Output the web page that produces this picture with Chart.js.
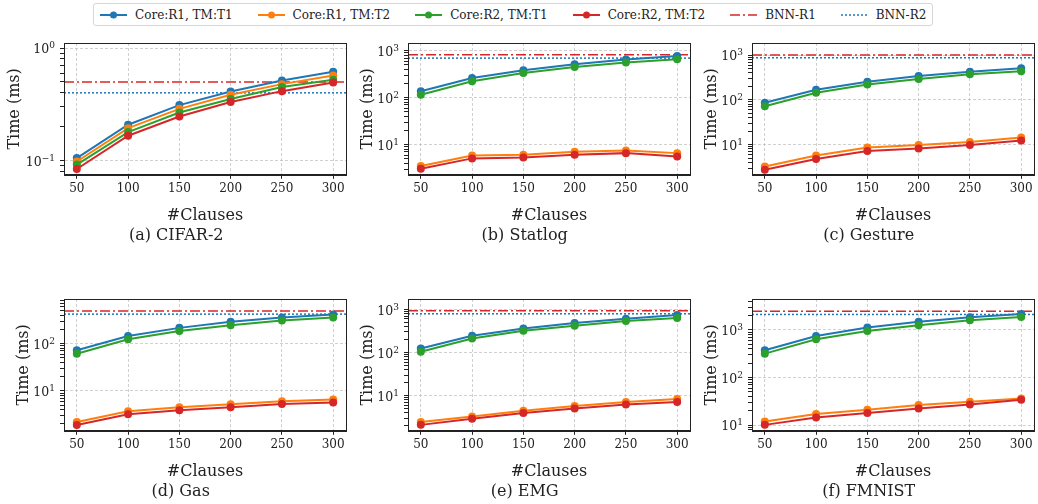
<!DOCTYPE html>
<html>
<head>
<meta charset="utf-8">
<script src="https://cdn.jsdelivr.net/npm/chart.js@4.4.1/dist/chart.umd.min.js"></script>
<style>
  body { margin: 0; background: #fff; width: 1038px; height: 504px; position: relative; overflow: hidden; font-family: "DejaVu Serif", serif; color: #222; }
  canvas.panel { position: absolute; }
  #legend { position: absolute; left: 93px; top: 3px; height: 21px; padding: 0 6px; display: flex; align-items: center;
            border: 1px solid #d6d6d6; border-radius: 3px; background: #fff; font-size: 12px; white-space: nowrap; }
  #legend .item { display: flex; align-items: center; margin-right: 25px; }
  #legend .item:last-child { margin-right: 0; }
  #legend svg { margin-right: 8px; }
</style>
</head>
<body>
<div id="legend"></div>
<script>
const clauses = [50, 100, 150, 200, 250, 300];
const captions = ['(a) CIFAR-2', '(b) Statlog', '(c) Gesture', '(d) Gas', '(e) EMG', '(f) FMNIST'];

// one row per dataset, same order as captions (ms)
const r1t1 = [
  [0.105, 0.208, 0.311, 0.411, 0.515, 0.615],
  [137, 263, 385, 518, 653, 770],
  [86, 168, 254, 339, 424, 510],
  [72, 145, 215, 288, 357, 414],
  [124, 244, 361, 482, 607, 740],
  [373, 747, 1120, 1480, 1850, 2150]
];
const r1t2 = [
  [0.098, 0.194, 0.288, 0.385, 0.478, 0.570],
  [3.5, 5.9, 6.1, 7.1, 7.5, 6.6],
  [3.25, 5.7, 8.6, 9.8, 11.5, 14.4],
  [2.2, 3.7, 4.5, 5.2, 6.0, 6.6],
  [2.44, 3.3, 4.48, 5.75, 7.1, 8.4],
  [11.9, 17, 21, 26.5, 31, 36]
];
const r2t1 = [
  [0.092, 0.179, 0.267, 0.352, 0.450, 0.523],
  [116, 224, 336, 452, 563, 662],
  [72, 144, 221, 291, 371, 433],
  [61, 124, 185, 245, 309, 357],
  [104, 212, 320, 417, 537, 630],
  [317, 634, 950, 1255, 1600, 1870]
];
const r2t2 = [
  [0.084, 0.166, 0.246, 0.331, 0.414, 0.495],
  [3.06, 5.1, 5.3, 6.1, 6.6, 5.6],
  [2.75, 4.8, 7.2, 8.2, 9.8, 12.3],
  [1.9, 3.2, 3.9, 4.5, 5.3, 5.7],
  [2.1, 2.9, 3.96, 5.0, 6.2, 7.1],
  [10.1, 14.5, 18, 22.4, 27, 34]
];
const bnnR1 = [0.5, 820, 1000, 486, 930, 2480];
const bnnR2 = [0.4, 697, 870, 420, 790, 2110];

// y limits of each panel
const yMin = [0.0746, 2.28, 2.12, 1.43, 1.53, 7.58];
const yMax = [1.11, 1462, 1860, 877, 1740, 4460];
const xMin = 37.5, xMax = 312.5;

const FONT = '"DejaVu Serif", serif';
const series = [
  { label: 'Core:R1, TM:T1', data: r1t1, color: '#1f77b4' },
  { label: 'Core:R1, TM:T2', data: r1t2, color: '#ff7f0e' },
  { label: 'Core:R2, TM:T1', data: r2t1, color: '#2ca02c' },
  { label: 'Core:R2, TM:T2', data: r2t2, color: '#d62728' }
];
const refs = [
  { label: 'BNN-R1', data: bnnR1, color: '#d62728', dash: [10, 3, 2, 3] },
  { label: 'BNN-R2', data: bnnR2, color: '#1f77b4', dash: [2, 2] }
];

// legend
const legend = document.getElementById('legend');
series.concat(refs).forEach(s => {
  const item = document.createElement('div');
  item.className = 'item';
  const dash = s.dash ? ` stroke-dasharray="${s.dash.join(',')}"` : '';
  const dot = s.dash ? '' : `<circle cx="13.5" cy="5" r="3.5" fill="${s.color}"/>`;
  item.innerHTML = `<svg width="27" height="10"><line x1="0" y1="5" x2="27" y2="5" stroke="${s.color}" stroke-width="${s.dash ? 1.5 : 2}"${dash}/>${dot}</svg><span>${s.label}</span>`;
  legend.appendChild(item);
});

const isDecade = v => Math.abs(Math.log10(v) - Math.round(Math.log10(v))) < 1e-9;

function logTicks(scale) {
  const t = [];
  const lo = Math.floor(Math.log10(scale.min)), hi = Math.ceil(Math.log10(scale.max));
  for (let e = lo; e <= hi; e++) {
    for (let m = 1; m < 10; m++) {
      const v = m * Math.pow(10, e);
      if (v >= scale.min && v <= scale.max) t.push({ value: v, major: m === 1 });
    }
  }
  scale.ticks = t;
}

// box around the plotting area, like matplotlib spines
const frame = {
  id: 'frame',
  afterDraw(chart) {
    const { ctx, chartArea: a } = chart;
    ctx.save();
    ctx.strokeStyle = '#222';
    ctx.lineWidth = 1;
    const l = Math.round(a.left) + 0.5, t = Math.round(a.top) + 0.5;
    ctx.strokeRect(l, t, Math.round(a.right) - Math.round(a.left), Math.round(a.bottom) - Math.round(a.top));
    ctx.restore();
  }
};

// "10" with a raised exponent at each decade of the log axis
const decadeLabels = {
  id: 'decadeLabels',
  afterDraw(chart) {
    const ys = chart.scales.y, ctx = chart.ctx;
    ctx.save();
    ctx.fillStyle = '#222';
    ctx.textBaseline = 'middle';
    ctx.textAlign = 'left';
    ys.ticks.forEach(t => {
      if (!isDecade(t.value)) return;
      const py = ys.getPixelForValue(t.value);
      const e = String(Math.round(Math.log10(t.value))).replace('-', '\u2212');
      ctx.font = '9px ' + FONT;
      const ew = ctx.measureText(e).width;
      ctx.font = '12.5px ' + FONT;
      const bw = ctx.measureText('10').width;
      const right = ys.right - 9;
      ctx.fillText('10', right - ew - bw, py + 2);
      ctx.font = '9px ' + FONT;
      ctx.fillText(e, right - ew, py - 2);
    });
    ctx.restore();
  }
};

const colLeft = [0, 344, 688];
const rowTop = [28, 284];

captions.forEach((cap, i) => {
  const canvas = document.createElement('canvas');
  canvas.className = 'panel';
  canvas.width = 350;
  canvas.height = 220;
  canvas.style.left = colLeft[i % 3] + 'px';
  canvas.style.top = rowTop[Math.floor(i / 3)] + 'px';
  document.body.appendChild(canvas);

  const padL = i === 0 ? 5.4 : 14.4;

  const datasets = series.map((s, k) => ({
    label: s.label,
    data: clauses.map((c, j) => ({ x: c, y: s.data[i][j] })),
    borderColor: s.color,
    backgroundColor: s.color,
    borderWidth: 2,
    pointRadius: 4,
    pointBorderWidth: 0,
    pointBackgroundColor: s.color,
    tension: 0,
    order: 3 - k
  }));
  refs.forEach((r, k) => {
    datasets.push({
      label: r.label,
      data: [{ x: xMin, y: r.data[i] }, { x: xMax, y: r.data[i] }],
      borderColor: r.color,
      borderWidth: 1.5,
      borderDash: r.dash,
      pointRadius: 0,
      order: 10 + k
    });
  });

  new Chart(canvas.getContext('2d'), {
    type: 'line',
    data: { datasets },
    options: {
      responsive: false,
      animation: false,
      events: [],
      layout: { padding: { left: padL, right: 3, top: 15, bottom: 0 } },
      plugins: {
        legend: { display: false },
        tooltip: { enabled: false },
        title: {
          display: true, position: 'bottom', text: cap, color: '#222',
          font: { family: FONT, size: 16, weight: 'normal' }, padding: { top: 0, bottom: 3 }
        }
      },
      scales: {
        x: {
          type: 'linear', min: xMin, max: xMax,
          afterBuildTicks: s => { s.ticks = clauses.map(v => ({ value: v })); },
          afterFit: s => { s.height = 51; },
          ticks: { font: { family: FONT, size: 12 }, color: '#222', padding: 3, maxRotation: 0, autoSkip: false },
          grid: { color: 'rgba(176,176,176,0.6)', tickColor: '#222', tickLength: 4 },
          border: { color: '#222', dash: [3, 2] },
          title: { display: true, text: '#Clauses', color: '#222', font: { family: FONT, size: 16 }, padding: { top: 0, bottom: 0.2 } }
        },
        y: {
          type: 'logarithmic', min: yMin[i], max: yMax[i],
          afterBuildTicks: logTicks,
          afterFit: s => { s.width = 64 - padL; },
          ticks: { font: { family: FONT, size: 12 }, color: '#222', padding: 3, autoSkip: false, callback: () => '' },
          grid: {
            color: c => (c.tick && isDecade(c.tick.value)) ? 'rgba(176,176,176,0.6)' : 'rgba(0,0,0,0)',
            tickColor: '#222', tickLength: 4
          },
          border: { color: '#222', dash: [3, 2] },
          title: { display: true, text: 'Time (ms)', color: '#222', font: { family: FONT, size: 16 }, padding: 0 }
        }
      }
    },
    plugins: [frame, decadeLabels]
  });
});
</script>
</body>
</html>
